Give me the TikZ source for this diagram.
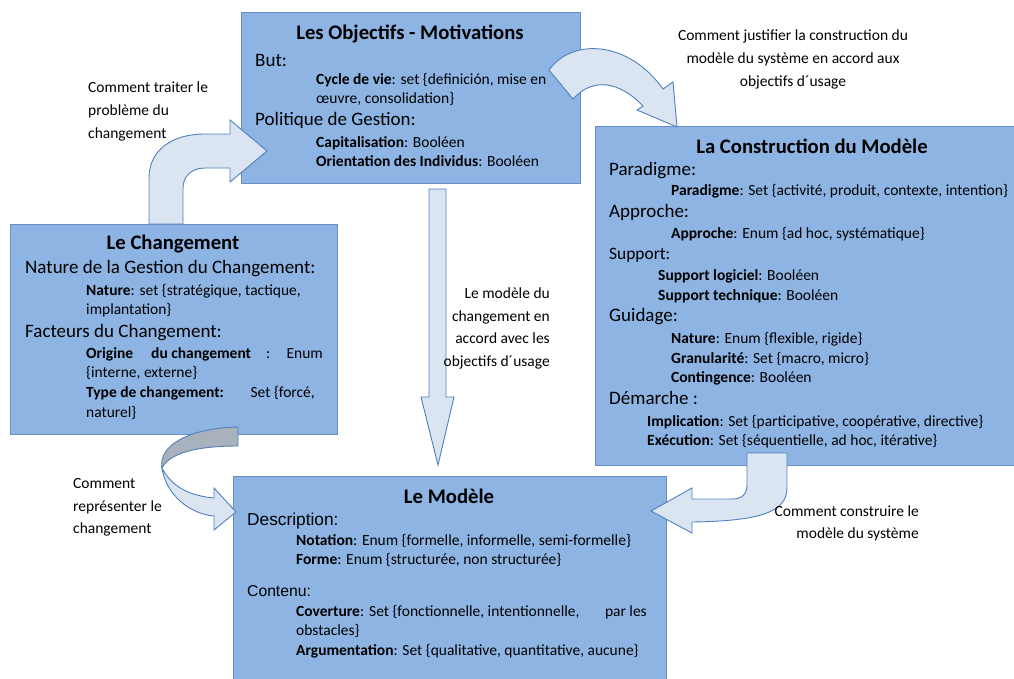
\documentclass[tikz,border=0pt]{standalone}
\usepackage{fontspec}
\setmainfont{Carlito}
\newfontfamily\arialf{Liberation Sans}
\definecolor{boxfill}{RGB}{142,180,227}
\definecolor{boxline}{RGB}{101,143,196}
\definecolor{arrfill}{RGB}{219,229,241}
\definecolor{arrline}{RGB}{79,129,189}
\definecolor{arrgray}{RGB}{168,177,188}
\begin{document}
\begin{tikzpicture}[x=1pt,y=-1pt,
  box/.style={draw=boxline, line width=1.2pt, fill=boxfill, anchor=north west, inner sep=0pt},
  arrowshape/.style={draw=arrline, line width=0.9pt, fill=arrfill, line join=miter},
  grayshape/.style={draw=arrline, line width=0.9pt, fill=arrgray},
  ttl/.style={anchor=mid, inner sep=0pt, yshift=-3pt, font=\fontsize{20.7}{22}\selectfont\bfseries},
  sub/.style={anchor=mid west, inner sep=0pt, yshift=-2.5pt, font=\fontsize{19}{21}\selectfont},
  subs/.style={anchor=mid west, inner sep=0pt, yshift=-2.5pt, font=\fontsize{17.4}{20}\selectfont},
  txt/.style={anchor=mid west, inner sep=0pt, yshift=-2.5pt, font=\fontsize{15.5}{18}\selectfont},
  ari/.style={anchor=mid west, inner sep=0pt, yshift=-2.5pt},
  lbl/.style={inner sep=0pt, yshift=-1.5pt, font=\fontsize{15.5}{22.7}\selectfont}]
\useasboundingbox (0,0) rectangle (1014,678);
\clip (0,0) rectangle (1014,678);
% boxes
\node[box, minimum width=339pt, minimum height=171pt] (obj) at (241,12) {};
\node[box, minimum width=327pt, minimum height=210pt] (chg) at (10,224) {};
\node[box, minimum width=440pt, minimum height=339pt] (cons) at (595,126) {};
\node[box, minimum width=433pt, minimum height=240pt] (mod) at (233,476) {};
% arrows
\draw[arrowshape] (149,224) -- (149,178) .. controls (149,150) and (172,134) .. (205,134) -- (230,134) -- (230,120) -- (267,151) -- (230,182) -- (230,168) -- (205,168) .. controls (192,168) and (183,176) .. (183,188) -- (183,224) -- cycle;
\draw[arrowshape] (549,70) .. controls (572,38) and (628,40) .. (663,89) -- (673,82) -- (677,127) -- (637,110) -- (643,106) .. controls (618,80) and (592,78) .. (573,99) -- cycle;
\draw[arrowshape] (429,189) -- (446,189) -- (446,397) -- (454,397) -- (438,465) -- (421,397) -- (429,397) -- cycle;
\draw[grayshape] (238,427) .. controls (190,428) and (158,445) .. (162,468) .. controls (170,452) and (200,446) .. (238,446) -- cycle;
\draw[arrowshape] (162,468) .. controls (166,495) and (190,514) .. (214,516) -- (214,530) -- (236,512) -- (214,488) -- (214,498) .. controls (192,496) and (172,488) .. (162,468) -- cycle;
\draw[arrowshape] (747,453) -- (787,453) -- (787,488) .. controls (787,512) and (760,521) .. (692,522) -- (692,533) -- (651,511) -- (692,488) -- (692,499) -- (732,499) .. controls (742,499) and (747,494) .. (747,485) -- cycle;
% top box text
\node[ttl] (t1) at (410,34) {Les Objectifs - Motivations};
\node[sub] (t1a) at (255,62) {But:};
\node[txt] (t1b) at (316,80) {\textbf{Cycle de vie}: set \{definición, mise en};
\node[txt] (t1c) at (316,99) {œuvre, consolidation\}};
\node[sub] (t1d) at (255,121) {Politique de Gestion:};
\node[txt] (t1e) at (316,143) {\textbf{Capitalisation}: Booléen};
\node[txt] (t1f) at (316,162) {\textbf{Orientation des Individus}: Booléen};
% left box text
\node[ttl] (t2) at (173,244) {Le Changement};
\node[sub] (t2a) at (25,269) {Nature de la Gestion du Changement:};
\node[txt] (t2b) at (86,291) {\textbf{Nature}: set \{stratégique, tactique,};
\node[txt] (t2c) at (86,310) {implantation\}};
\node[sub] (t2d) at (25,333) {Facteurs du Changement:};
\node[txt] (t2e) at (86,354) {\textbf{Origine}};
\node[txt] (t2f) at (151,354) {\textbf{du changement}};
\node[txt] (t2g) at (266,354) {:};
\node[txt,anchor=mid east] (t2h) at (323,354) {Enum};
\node[txt] (t2i) at (86,373) {\{interne, externe\}};
\node[txt] (t2j) at (86,393) {\textbf{Type de changement:}};
\node[txt,anchor=mid east] (t2k) at (315,393) {Set \{forcé,};
\node[txt] (t2l) at (86,413) {naturel\}};
% right box text
\node[ttl] (t3) at (812,148) {La Construction du Modèle};
\node[sub] (t3a) at (609,171) {Paradigme:};
\node[txt] (t3b) at (671,191) {\textbf{Paradigme}: Set \{activité, produit, contexte, intention\}};
\node[sub] (t3c) at (609,213) {Approche:};
\node[txt] (t3d) at (671,234) {\textbf{Approche}: Enum \{ad hoc, systématique\}};
\node[subs] (t3e) at (609,255) {Support:};
\node[txt] (t3f) at (658,276) {\textbf{Support logiciel}: Booléen};
\node[txt] (t3g) at (658,296) {\textbf{Support technique}: Booléen};
\node[sub] (t3h) at (609,317) {Guidage:};
\node[txt] (t3i) at (671,339) {\textbf{Nature}: Enum \{flexible, rigide\}};
\node[txt] (t3j) at (671,359) {\textbf{Granularité}: Set \{macro, micro\}};
\node[txt] (t3k) at (671,378) {\textbf{Contingence}: Booléen};
\node[sub] (t3l) at (609,400) {Démarche :};
\node[txt] (t3m) at (647,422) {\textbf{Implication}: Set \{participative, coopérative, directive\}};
\node[txt] (t3n) at (647,441) {\textbf{Exécution}: Set \{séquentielle, ad hoc, itérative\}};
% bottom box text
\node[ttl] (t4) at (449,498) {Le Modèle};
\node[ari, font=\arialf\fontsize{17.3}{20}\selectfont] (t4a) at (247,521) {Description:};
\node[txt] (t4b) at (296,541) {\textbf{Notation}: Enum \{formelle, informelle, semi-formelle\}};
\node[txt] (t4c) at (296,560) {\textbf{Forme}: Enum \{structurée, non structurée\}};
\node[ari, font=\arialf\fontsize{15.7}{20}\selectfont] (t4d) at (247,592) {Contenu:};
\node[txt] (t4e) at (296,612) {\textbf{Coverture}:\hspace{5pt}Set \{fonctionnelle, intentionnelle,};
\node[txt,anchor=mid east] (t4f) at (647,612) {par les};
\node[txt] (t4g) at (296,631) {obstacles\}};
\node[txt] (t4h) at (296,651) {\textbf{Argumentation}: Set \{qualitative, quantitative, aucune\}};
% labels
\node[lbl, anchor=west, align=left] (l1) at (88,110) {Comment traiter le\\problème du\\changement};
\node[lbl, anchor=center, align=center] (l2) at (793,58) {Comment justifier la construction du\\modèle du système en accord aux\\objectifs d´usage};
\node[lbl, anchor=east, align=right] (l3) at (550,327) {Le modèle du\\changement en\\accord avec les\\objectifs d´usage};
\node[lbl, anchor=west, align=left] (l4) at (73,506) {Comment\\représenter le\\changement};
\node[lbl, anchor=east, align=right] (l5) at (919,522) {Comment construire le\\modèle du système};
\end{tikzpicture}
\end{document}
